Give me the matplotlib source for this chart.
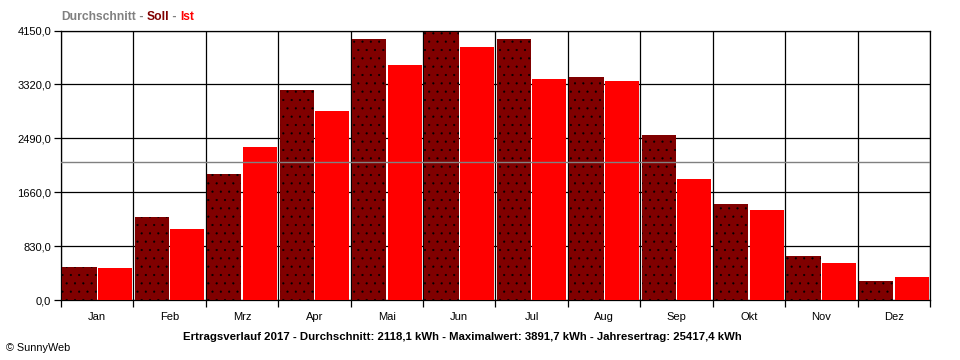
import matplotlib
matplotlib.use("Agg")
import matplotlib.pyplot as plt
import numpy as np

plt.rcParams['font.family'] = ['Liberation Sans', 'DejaVu Sans']
plt.rcParams['hatch.linewidth'] = 0.3

months = ["Jan", "Feb", "Mrz", "Apr", "Mai", "Jun", "Jul", "Aug", "Sep", "Okt", "Nov", "Dez"]
soll = [512, 1280, 1941, 3232, 4016, 4124, 4016, 3432, 2541, 1480, 681, 297]
ist = [496, 1096, 2356, 2910, 3617, 3891.7, 3401, 3371, 1864, 1388, 573, 358]
average = 2118.1
y_ticks = [0, 830, 1660, 2490, 3320, 4150]
y_ticklabels = ["0,0", "830,0", "1660,0", "2490,0", "3320,0", "4150,0"]
footer = "Ertragsverlauf 2017 - Durchschnitt: 2118,1 kWh - Maximalwert: 3891,7 kWh - Jahresertrag: 25417,4 kWh"

W, H = 960, 360
fig = plt.figure(figsize=(W / 100, H / 100), dpi=100)
L, R, T, B = 61, 930, 30.5, 300
ax = fig.add_axes([L / W, (H - B) / H, (R - L) / W, (B - T) / H])

x = np.arange(len(months))
ax.bar(x + 0.255, soll, width=0.475, color='#800000', edgecolor='black', linewidth=0,
       hatch='..', zorder=3)
ax.bar(x + 0.745, ist, width=0.47, color='#ff0000', linewidth=0, zorder=3)

ax.axhline(average, color='#808080', linewidth=1.0, zorder=5)

ax.set_xlim(0, 12)
ax.set_ylim(0, 4150)
ax.set_yticks(y_ticks)
ax.set_yticklabels(y_ticklabels, fontsize=8)
ax.set_xticks(np.arange(0, 13))
ax.set_xticklabels([])
ax.set_xticks(x + 0.5, minor=True)
ax.set_xticklabels(months, minor=True, fontsize=8)
ax.tick_params(axis='x', which='minor', length=0, pad=9)
ax.tick_params(axis='x', which='major', length=5, width=0.9, color='black', direction='out')
ax.tick_params(axis='y', length=5, width=0.9, color='black', direction='out', pad=2)

ax.grid(True, which='major', color='black', linewidth=0.9, zorder=1)
ax.set_axisbelow(True)
for s in ax.spines.values():
    s.set_color('black')
    s.set_linewidth(0.9)

# title
fs = 8.7
t1 = fig.text(L / W, 1 - 20 / H, "Durchschnitt", color='#808080', fontsize=fs, fontweight='bold',
              ha='left', va='baseline')
t2 = ax.annotate(" - ", xy=(1, 0), xycoords=t1, color='#808080', fontsize=fs, fontweight='bold',
                 ha='left', va='bottom')
t3 = ax.annotate("Soll", xy=(1, 0), xycoords=t2, color='#800000', fontsize=fs, fontweight='bold',
                 ha='left', va='bottom')
t4 = ax.annotate(" - ", xy=(1, 0), xycoords=t3, color='#808080', fontsize=fs, fontweight='bold',
                 ha='left', va='bottom')
t5 = ax.annotate("Ist", xy=(1, 0), xycoords=t4, color='#ff0000', fontsize=fs, fontweight='bold',
                 ha='left', va='bottom')

fig.text(462 / W, 1 - 337 / H, footer, fontsize=8.2, fontweight='bold', ha='center', va='center')
fig.text(6 / W, 1 - 348 / H, "© SunnyWeb", fontsize=7.8, ha='left', va='center')

fig.savefig("out.png", dpi=100, facecolor='white')
